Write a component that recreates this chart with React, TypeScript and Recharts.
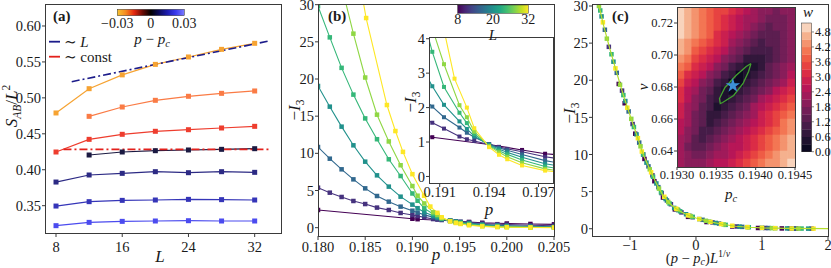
import React from "react"
import { LineChart, Line, XAxis, YAxis, ScatterChart, Scatter } from "recharts"

const FONT = "'Liberation Serif', 'DejaVu Serif', serif"
const INK = "#1a1a1a"
const FRAME = "#3a3a3a"
const TICK = { fill: INK, fontSize: 14.5, fontFamily: FONT }
const TICK_SM = { fill: INK, fontSize: 12.5, fontFamily: FONT }

// ---------- (a) S_AB / L^2 against L, one series per p - p_c
const A_L = [8, 12, 16, 20, 24, 28, 32]
const A_TICKS = [8, 16, 24, 32]
const A_DP = [-0.03, -0.02, -0.01, 0, 0.01, 0.02, 0.03]
const A_COLORS = ["#f6a332", "#fa7b45", "#ee3d2e", "#1b1a42", "#2c2a84", "#3535b8", "#4b4bef"]
const A_S = [
  [0.479, 0.5128, 0.532, 0.5466, 0.5569, 0.5675, 0.5759],
  [null, 0.4743, 0.4873, 0.4966, 0.5022, 0.5063, 0.5096],
  [0.4247, 0.4423, 0.4493, 0.4535, 0.4557, 0.4581, 0.4604],
  [null, 0.4205, 0.4247, 0.4265, 0.4275, 0.4284, 0.4293],
  [0.3829, 0.3927, 0.395, 0.3973, 0.3959, 0.3973, 0.3964],
  [0.3495, 0.3556, 0.3574, 0.3579, 0.3588, 0.3584, 0.3579],
  [0.3222, 0.3268, 0.3282, 0.3287, 0.3291, 0.3287, 0.3287],
]
const A_FIT_L = [9.9, 33.9]
const A_FIT_LIN = [0.5225, 0.5796]
const A_CONST_L = [8.9, 33.9]
const A_CONST = [0.4284, 0.4284]
const A_YTICKS = [0.35, 0.4, 0.45, 0.5, 0.55, 0.6]

// ---------- (b) -I3 against p, one series per L
const B_L = [8, 12, 16, 20, 24, 28, 32]
const B_COLORS = ["#440154", "#46327e", "#31688e", "#21918c", "#35b779", "#8fd744", "#fde725"]
const B_P8 = [0.18, 0.19, 0.19055, 0.194, 0.196, 0.1974, 0.2, 0.2025, 0.205]
const B_I8 = [2.38, 1.2, 1.14, 0.93, 0.77, 0.66, 0.56, 0.5, 0.45]
const B_P = [0.18, 0.18125, 0.1825, 0.18375, 0.185, 0.18625, 0.1875, 0.18875, 0.19, 0.19055, 0.19126, 0.1922,
  0.19265, 0.1931, 0.194, 0.1946, 0.1951, 0.196, 0.1974, 0.199, 0.2, 0.2025, 0.205]
const B_I12 = [5.38, 4.71, 4.13, 3.59, 3.18, 2.7, 2.38, 1.98, 1.7, 1.56, 1.39, 1.16, 1.08, 1.03, 0.93, 0.86, 0.8, 0.72, 0.57, 0.47, 0.42, 0.32, 0.26]
const B_I16 = [10.85, 9.28, 7.85, 6.5, 5.29, 4.26, 3.5, 2.83, 2.28, 2.03, 1.72, 1.42, 1.27, 1.14, 0.94, 0.83, 0.76, 0.64, 0.46, 0.33, 0.27, 0.18, 0.13]
const B_I20 = [19.06, 16.28, 13.59, 11.08, 8.88, 7.04, 5.52, 4.17, 3.1, 2.62, 2.08, 1.6, 1.38, 1.17, 0.92, 0.79, 0.7, 0.56, 0.37, 0.24, 0.19, 0.11, 0.07]
const B_I24 = [29.8, 25.6, 21.5, 17.9, 14.7, 11.9, 9.2, 6.95, 4.6, 3.62, 2.6, 1.85, 1.55, 1.23, 0.9, 0.75, 0.64, 0.48, 0.29, 0.17, 0.12, 0.06, 0.04]
const B_P28 = [0.1825, 0.18375, 0.185, 0.18625, 0.1875, 0.18875, 0.19, 0.19055, 0.19126, 0.1922, 0.19265, 0.1931,
  0.194, 0.1946, 0.1951, 0.196, 0.1974, 0.199, 0.2, 0.2025, 0.205]
const B_I28 = [32.5, 26.1, 20.2, 15.2, 11.6, 8.4, 5.6, 4.3, 3.26, 2.07, 1.72, 1.3, 0.88, 0.7, 0.57, 0.4, 0.22, 0.11, 0.08, 0.04, 0.03]
const B_P32 = [0.184, 0.1851, 0.1873, 0.1882, 0.189, 0.19, 0.19124, 0.1919, 0.19265, 0.1931, 0.194, 0.1946, 0.1951,
  0.196, 0.1974, 0.199, 0.2, 0.2025, 0.205]
const B_I32 = [36, 28.2, 16.5, 13.0, 10.2, 7.2, 4.3, 2.84, 2.0, 1.4, 0.85, 0.63, 0.5, 0.32, 0.17, 0.08, 0.05, 0.02, 0.01]
const B_XTICKS = [0.18, 0.185, 0.19, 0.195, 0.2, 0.205]
const B_YTICKS = [0, 5, 10, 15, 20, 25, 30]
const INSET_XTICKS = [0.191, 0.194, 0.197]
const INSET_YTICKS = [0, 1, 2, 3, 4]

// ---------- (c) collapse: -I3 against (p - pc) L^(1/nu)
const C_X = [-1.6, -1.5, -1.4, -1.3, -1.2, -1.1, -1.0, -0.9, -0.8, -0.7, -0.6, -0.5, -0.4, -0.3, -0.2, -0.1, 0, 0.2, 0.4, 0.6, 0.8, 1.0, 1.4, 2.0]
const C_V = [35.5, 31.2, 27.4, 24.1, 21.0, 18.0, 15.3, 12.7, 10.0, 8.0, 6.1, 4.5, 3.4, 2.7, 2.15, 1.75, 1.45, 0.95, 0.6, 0.33, 0.2, 0.12, 0.04, 0]
const C_PTS: number[][][] = [
  [[-1.17, 19.5], [-1.08, 16.9], [-0.92, 12.8], [-0.78, 9.4], [-0.63, 6.4], [-0.5, 4.2], [-0.32, 2.6], [-0.12, 1.6], [0.16, 0.9], [0.55, 0.3], [0.94, 0.1], [1.3, 0.04], [1.52, 0.02]],
  [[-1.32, 24.5], [-1.12, 18.6], [-0.96, 14.1], [-0.8, 10.0], [-0.66, 7.2], [-0.52, 4.8], [-0.38, 3.3], [-0.22, 2.2], [-0.05, 1.55], [0.25, 0.85], [0.62, 0.3], [1.05, 0.1], [1.42, 0.03], [1.75, 0.01]],
  [[-1.38, 26.8], [-1.2, 21.0], [-1.02, 15.8], [-0.86, 11.6], [-0.72, 8.4], [-0.57, 5.6], [-0.44, 3.8], [-0.27, 2.5], [-0.1, 1.75], [0.1, 1.2], [0.35, 0.7], [0.7, 0.25], [1.1, 0.09], [1.48, 0.03]],
  [[-1.43, 28.6], [-1.25, 22.5], [-1.07, 17.2], [-0.9, 12.7], [-0.75, 8.9], [-0.6, 6.1], [-0.46, 4.0], [-0.33, 2.8], [-0.15, 1.95], [0.05, 1.3], [0.3, 0.78], [0.66, 0.28], [1.0, 0.12], [1.38, 0.04], [1.7, 0.01]],
  [[-1.45, 29.4], [-1.28, 23.5], [-1.1, 18.0], [-0.94, 13.7], [-0.8, 10.0], [-0.65, 7.0], [-0.53, 4.9], [-0.4, 3.4], [-0.24, 2.35], [-0.05, 1.6], [0.2, 0.95], [0.45, 0.52], [0.8, 0.2], [1.2, 0.07], [1.6, 0.02]],
  [[-1.47, 30.0], [-1.35, 25.6], [-1.15, 19.4], [-0.98, 14.8], [-0.84, 11.1], [-0.7, 8.0], [-0.56, 5.4], [-0.42, 3.6], [-0.28, 2.6], [-0.08, 1.7], [0.15, 1.07], [0.42, 0.57], [0.78, 0.21], [1.15, 0.08], [1.55, 0.02]],
  [[-1.41, 27.8], [-1.22, 21.6], [-1.04, 16.3], [-0.88, 12.2], [-0.82, 10.4], [-0.68, 7.6], [-0.48, 4.3], [-0.3, 2.7], [-0.12, 1.8], [0.05, 1.3], [0.22, 0.92], [0.38, 0.63], [0.55, 0.4], [0.78, 0.21], [1.0, 0.12], [1.2, 0.07], [1.45, 0.03], [1.78, 0.01]],
]
const C_XTICKS = [-1, 0, 1, 2]

// ---------- (c) inset: cost w over (pc, nu)
const HM_PC = [0.193047, 0.193141, 0.193234, 0.193328, 0.193422, 0.193516, 0.193609, 0.193703,
  0.193797, 0.193891, 0.193984, 0.194078, 0.194172, 0.194266, 0.194359, 0.194453]
const HM_NU = [0.7275, 0.7225, 0.7175, 0.7125, 0.7075, 0.7025, 0.6975, 0.6925, 0.6875, 0.6825,
  0.6775, 0.6725, 0.6675, 0.6625, 0.6575, 0.6525, 0.6475, 0.6425, 0.6375, 0.6325]
const HM_W = [
  [4.9, 4.6, 4.3, 4.1, 3.8, 3.5, 3.3, 3.0, 2.8, 2.5, 2.2, 2.0, 1.8, 1.7, 1.8, 2.0],
  [4.9, 4.6, 4.4, 4.1, 3.8, 3.5, 3.2, 2.9, 2.6, 2.3, 2.1, 1.8, 1.6, 1.6, 1.7, 1.9],
  [4.9, 4.6, 4.3, 4.0, 3.7, 3.4, 3.1, 2.8, 2.5, 2.2, 1.9, 1.6, 1.4, 1.5, 1.7, 2.0],
  [4.9, 4.6, 4.2, 3.9, 3.6, 3.2, 2.9, 2.6, 2.2, 1.9, 1.6, 1.3, 1.3, 1.4, 1.7, 2.0],
  [4.7, 4.4, 4.0, 3.7, 3.4, 3.0, 2.7, 2.3, 2.0, 1.6, 1.3, 1.1, 1.2, 1.4, 1.7, 2.0],
  [4.6, 4.2, 3.8, 3.5, 3.1, 2.7, 2.4, 2.0, 1.6, 1.3, 1.0, 0.9, 1.1, 1.4, 1.7, 2.0],
  [4.3, 3.9, 3.5, 3.2, 2.8, 2.4, 2.0, 1.6, 1.2, 0.8, 0.6, 0.8, 1.1, 1.4, 1.7, 2.0],
  [4.0, 3.6, 3.2, 2.8, 2.4, 2.0, 1.6, 1.1, 0.7, 0.4, 0.5, 0.8, 1.2, 1.5, 1.8, 2.1],
  [3.7, 3.2, 2.8, 2.4, 1.9, 1.5, 1.1, 0.7, 0.2, 0.3, 0.7, 1.0, 1.3, 1.7, 2.0, 2.4],
  [3.3, 2.9, 2.4, 2.0, 1.5, 1.1, 0.7, 0.2, 0.2, 0.6, 0.9, 1.3, 1.6, 2.0, 2.3, 2.7],
  [3.0, 2.5, 2.1, 1.6, 1.2, 0.8, 0.3, 0.2, 0.6, 0.9, 1.3, 1.7, 2.0, 2.4, 2.8, 3.1],
  [3.0, 2.5, 2.0, 1.6, 1.1, 0.6, 0.3, 0.6, 1.0, 1.4, 1.7, 2.1, 2.4, 2.8, 3.2, 3.5],
  [2.8, 2.3, 1.8, 1.4, 0.9, 0.4, 0.7, 1.0, 1.4, 1.7, 2.1, 2.4, 2.8, 3.1, 3.5, 3.8],
  [2.7, 2.2, 1.7, 1.3, 0.8, 0.6, 1.0, 1.3, 1.7, 2.0, 2.3, 2.7, 3.0, 3.3, 3.7, 4.0],
  [2.6, 2.1, 1.6, 1.2, 0.8, 1.0, 1.3, 1.6, 1.9, 2.2, 2.6, 2.9, 3.2, 3.5, 3.9, 4.2],
  [2.4, 2.0, 1.5, 1.1, 0.9, 1.3, 1.6, 1.9, 2.2, 2.5, 2.8, 3.1, 3.4, 3.7, 4.0, 4.3],
  [2.3, 1.8, 1.4, 1.1, 1.2, 1.5, 1.8, 2.1, 2.4, 2.7, 3.0, 3.3, 3.6, 3.9, 4.2, 4.5],
  [2.2, 1.7, 1.4, 1.3, 1.5, 1.8, 2.1, 2.4, 2.6, 2.9, 3.2, 3.5, 3.8, 4.0, 4.3, 4.6],
  [2.1, 1.8, 1.6, 1.6, 1.8, 2.1, 2.3, 2.6, 2.9, 3.1, 3.4, 3.7, 3.9, 4.2, 4.5, 4.7],
  [2.1, 1.9, 1.8, 1.9, 2.1, 2.4, 2.6, 2.9, 3.2, 3.4, 3.7, 3.9, 4.2, 4.4, 4.7, 5.0],
]
const HM_CONTOUR_PC = [0.19394, 0.19391, 0.19384, 0.19372, 0.19358, 0.19355, 0.19354, 0.19361, 0.19375, 0.19388, 0.19394]
const HM_CONTOUR_NU = [0.6947, 0.6897, 0.6822, 0.6747, 0.6703, 0.6697, 0.6728, 0.6797, 0.6872, 0.6928, 0.6947]
const HM_BEST = { pc: 0.19371, nu: 0.6809 }
const HM_XTICKS = [0.193, 0.1935, 0.194, 0.1945]
const HM_YTICKS = [0.64, 0.66, 0.68, 0.7, 0.72]
const W_TICKS = [0, 0.6, 1.2, 1.8, 2.4, 3.0, 3.6, 4.2, 4.8]
const W_STEP = 0.3
const W_MAX = 5.16

// colour maps
const ROCKET = ["#03051a", "#221331", "#451c47", "#6a1f56", "#921c5b", "#b91657", "#d92847", "#ed503e", "#f47d57", "#f5b08d", "#faebdd"]
const VIRIDIS = ["#440154", "#482475", "#414487", "#355f8d", "#2a788e", "#21918c", "#22a884", "#44bf70", "#7ad151", "#bddf26", "#fde725"]
const DP_STOPS = ["#f7c331", "#f58a1f", "#e4260f", "#6b0a04", "#000000", "#0b0b5c", "#1c1cb0", "#3b3bee", "#7a7aff"]

function hex(c: string) {
  return [1, 3, 5].map(i => parseInt(c.slice(i, i + 2), 16))
}
function rocket(t: number) {
  const x = Math.max(0, Math.min(1, t)) * (ROCKET.length - 1)
  const i = Math.min(Math.floor(x), ROCKET.length - 2)
  const f = x - i
  const a = hex(ROCKET[i]), b = hex(ROCKET[i + 1])
  return `rgb(${a.map((v, k) => Math.round(v + (b[k] - v) * f)).join(",")})`
}
function levelColor(w: number) {
  const band = Math.min(Math.floor(w / W_STEP + 1e-6), 16)
  return rocket(((band + 0.5) * W_STEP) / W_MAX)
}

const square = (size: number, fill: string) => (props: any) => {
  const { cx, cy, index } = props
  if (!Number.isFinite(cx) || !Number.isFinite(cy)) return <g key={`e${index}`} />
  return <rect key={`d${index}`} x={cx - size / 2} y={cy - size / 2} width={size} height={size} fill={fill} />
}

const pairs = (xs: number[], ys: number[]) => xs.map((p, i) => ({ p, v: ys[i] }))
const B_SERIES = [
  pairs(B_P8, B_I8), pairs(B_P, B_I12), pairs(B_P, B_I16), pairs(B_P, B_I20),
  pairs(B_P, B_I24), pairs(B_P28, B_I28), pairs(B_P32, B_I32),
]

function PanelA() {
  const series = A_S.map((row, k) => ({
    dp: A_DP[k],
    color: A_COLORS[k],
    data: A_L.map((L, i) => ({ L, v: row[i] })).filter(d => d.v != null),
  }))
  const fit = A_FIT_L.map((L, i) => ({ L, v: A_FIT_LIN[i] }))
  const flat = A_CONST_L.map((L, i) => ({ L, v: A_CONST[i] }))
  return (
    <LineChart width={290} height={268} margin={{ top: 4, right: 9, bottom: 0, left: 0 }}>
      <XAxis type="number" dataKey="L" domain={[6.67, 35.18]} ticks={A_TICKS} allowDataOverflow interval={0}
        height={35} tickSize={4} tickMargin={5} axisLine={false} tickLine={{ stroke: FRAME }} tick={TICK} />
      <YAxis type="number" domain={[0.312, 0.6306]} ticks={A_YTICKS} allowDataOverflow interval={0}
        width={45} tickSize={3} tickMargin={1} axisLine={false} tickLine={{ stroke: FRAME }} tick={TICK}
        tickFormatter={(v: number) => v.toFixed(2)} />
      {series.map(s => (
        <Line key={s.dp} data={s.data} dataKey="v" stroke={s.color} strokeWidth={1.2} isAnimationActive={false}
          dot={square(5, s.color)} activeDot={false} />
      ))}
      <Line data={fit} dataKey="v" stroke="#1c1c8a" strokeWidth={1.6} strokeDasharray="8 3 2 3" dot={false}
        activeDot={false} isAnimationActive={false} />
      <Line data={flat} dataKey="v" stroke="#e3211c" strokeWidth={1.6} strokeDasharray="8 3 2 3" dot={false}
        activeDot={false} isAnimationActive={false} />
    </LineChart>
  )
}

function PanelB() {
  return (
    <LineChart width={292} height={268} margin={{ top: 4, right: 20, bottom: 0, left: 0 }}>
      <XAxis type="number" dataKey="p" domain={[0.18, 0.205]} ticks={B_XTICKS} allowDataOverflow interval={0}
        height={32} tickSize={4} tickMargin={2} axisLine={false} tickLine={{ stroke: FRAME }} tick={TICK}
        tickFormatter={(v: number) => v.toFixed(3)} />
      <YAxis type="number" domain={[-1.12, 30.09]} ticks={B_YTICKS} allowDataOverflow interval={0}
        width={36} tickSize={3} tickMargin={1} axisLine={false} tickLine={{ stroke: FRAME }} tick={TICK} />
      {B_SERIES.map((d, k) => (
        <Line key={B_L[k]} data={d} dataKey="v" stroke={B_COLORS[k]} strokeWidth={1.1} isAnimationActive={false}
          dot={square(4.5, B_COLORS[k])} activeDot={false} />
      ))}
    </LineChart>
  )
}

function InsetB() {
  return (
    <LineChart width={174} height={213} margin={{ top: 37, right: 20, bottom: 0, left: 0 }}>
      <XAxis type="number" dataKey="p" domain={[0.19035, 0.19788]} ticks={INSET_XTICKS} allowDataOverflow interval={0}
        height={30} tickSize={4} tickMargin={0} axisLine={false} tickLine={{ stroke: FRAME }} tick={TICK}
        tickFormatter={(v: number) => v.toFixed(3)} />
      <YAxis type="number" domain={[-0.19, 4.05]} ticks={INSET_YTICKS} allowDataOverflow interval={0}
        width={30} tickSize={3} tickMargin={1} axisLine={false} tickLine={{ stroke: FRAME }} tick={TICK} />
      {B_SERIES.map((d, k) => (
        <Line key={B_L[k]} data={d} dataKey="v" stroke={B_COLORS[k]} strokeWidth={1.1} isAnimationActive={false}
          dot={square(4, B_COLORS[k])} activeDot={false} />
      ))}
    </LineChart>
  )
}

function PanelC() {
  const curve = C_X.map((x, i) => ({ x, y: C_V[i] }))
  return (
    <ScatterChart width={283} height={268} margin={{ top: 4, right: 10, bottom: 0, left: 0 }}>
      <XAxis type="number" dataKey="x" domain={[-1.575, 2]} ticks={C_XTICKS} allowDataOverflow interval={0}
        height={32} tickSize={4} tickMargin={0} axisLine={false} tickLine={{ stroke: FRAME }} tick={TICK}
        tickFormatter={(v: number) => (v < 0 ? `\u2212${-v}` : `${v}`)} />
      <YAxis type="number" dataKey="y" domain={[-0.98, 30.27]} ticks={B_YTICKS} allowDataOverflow interval={0}
        width={37} tickSize={3} tickMargin={1} axisLine={false} tickLine={{ stroke: FRAME }} tick={TICK} />
      {C_PTS.map((pts, k) => (
        <Scatter key={B_L[k]} data={pts.map(([x, y]) => ({ x, y }))} isAnimationActive={false}
          shape={square(4.5, B_COLORS[k])} />
      ))}
      <Scatter data={curve} isAnimationActive={false} line={{ stroke: "#b4dd2c", strokeWidth: 1.2 }}
        lineType="joint" shape={() => <g />} />
    </ScatterChart>
  )
}

const HM_PLOT_W = 118
const HM_PLOT_H = 160

function Heatmap() {
  const cells = HM_W.flatMap((row, j) => row.map((w, i) => ({ pc: HM_PC[i], nu: HM_NU[j], w })))
  const cw = HM_PLOT_W / HM_PC.length
  const ch = HM_PLOT_H / HM_NU.length
  const contour = HM_CONTOUR_PC.map((pc, i) => ({ pc, nu: HM_CONTOUR_NU[i] }))
  return (
    <ScatterChart width={183} height={187} margin={{ top: 7, right: 20, bottom: 0, left: 0 }}>
      <XAxis type="number" dataKey="pc" domain={[0.193, 0.1945]} ticks={HM_XTICKS} allowDataOverflow interval={0}
        height={20} tickSize={3} tickMargin={0} axisLine={false} tickLine={{ stroke: FRAME }} tick={TICK_SM}
        tickFormatter={(v: number) => v.toFixed(4)} />
      <YAxis type="number" dataKey="nu" domain={[0.63, 0.73]} ticks={HM_YTICKS} allowDataOverflow interval={0}
        width={45} tickSize={3} tickMargin={1} axisLine={false} tickLine={{ stroke: FRAME }} tick={TICK_SM}
        tickFormatter={(v: number) => v.toFixed(2)} />
      <Scatter data={cells} isAnimationActive={false}
        shape={(p: any) => (
          <rect x={p.cx - cw / 2 - 0.3} y={p.cy - ch / 2 - 0.3} width={cw + 0.6} height={ch + 0.6}
            fill={levelColor(p.payload.w)} />
        )} />
      <Scatter data={contour} isAnimationActive={false} line={{ stroke: "#43a02f", strokeWidth: 1.3 }}
        lineType="joint" shape={() => <g />} />
      <Scatter data={[HM_BEST]} isAnimationActive={false} shape="star" fill="#3d8fd6" size={45} />
    </ScatterChart>
  )
}

function Frame({ x, y, w, h }: { x: number; y: number; w: number; h: number }) {
  return <rect x={x + 0.5} y={y + 0.5} width={w - 1} height={h - 1} fill="none" stroke={FRAME} strokeWidth={1} />
}

function Overlay() {
  const bands = Array.from({ length: 17 }, (_, i) => i)
  const cbTop = 23
  const cbBot = 151.7
  const wy = (w: number) => cbBot - (w / W_MAX) * (cbBot - cbTop)
  return (
    <svg width={831} height={268} style={{ position: "absolute", left: 0, top: 0 }} fontFamily={FONT} fill={INK}>
      <defs>
        <linearGradient id="cbA" x1="0" x2="1" y1="0" y2="0">
          {DP_STOPS.map((c, i) => <stop key={i} offset={i / (DP_STOPS.length - 1)} stopColor={c} />)}
        </linearGradient>
        <linearGradient id="cbB" x1="0" x2="1" y1="0" y2="0">
          {VIRIDIS.map((c, i) => <stop key={i} offset={i / (VIRIDIS.length - 1)} stopColor={c} />)}
        </linearGradient>
      </defs>

      <Frame x={45} y={4} w={237} h={230} />
      <Frame x={318} y={4} w={237} h={233} />
      <Frame x={429} y={37} w={125} h={147} />
      <Frame x={592} y={4} w={237} h={233} />
      <Frame x={677} y={7} w={119} h={161} />

      {/* panel (a) */}
      <text x={53} y={21} fontSize={15} fontWeight="bold">(a)</text>
      <text transform="translate(17,106) rotate(-90)" textAnchor="middle" fontSize={17}>
        <tspan fontStyle="italic">S</tspan>
        <tspan fontSize={11.5} dy={4} fontStyle="italic">AB</tspan>
        <tspan dy={-4}>/</tspan>
        <tspan fontStyle="italic">L</tspan>
        <tspan fontSize={11.5} dy={-7}>2</tspan>
      </text>
      <text x={160} y={262} textAnchor="middle" fontSize={17} fontStyle="italic">L</text>
      <rect x={117.3} y={9.3} width={67} height={6.4} fill="url(#cbA)" stroke="#333" strokeWidth={0.5} />
      <text x={117.3} y={28} textAnchor="middle" fontSize={14}>{"\u22120.03"}</text>
      <text x={150.8} y={28} textAnchor="middle" fontSize={14}>0</text>
      <text x={184.3} y={28} textAnchor="middle" fontSize={14}>0.03</text>
      <text x={152} y={44} textAnchor="middle" fontSize={15}>
        <tspan fontStyle="italic">p</tspan> {"\u2212"} <tspan fontStyle="italic">p</tspan>
        <tspan fontSize={10.5} dy={3} fontStyle="italic">c</tspan>
      </text>
      <line x1={49} x2={60} y1={41.7} y2={41.7} stroke="#1c1c8a" strokeWidth={1.8} />
      <text x={64} y={47} fontSize={15}>{"\u223c "}<tspan fontStyle="italic">L</tspan></text>
      <line x1={49} x2={60} y1={56.7} y2={56.7} stroke="#e3211c" strokeWidth={1.8} />
      <text x={64} y={62} fontSize={15}>{"\u223c const"}</text>

      {/* panel (b) */}
      <text x={328} y={21} fontSize={15} fontWeight="bold">(b)</text>
      <text transform="translate(300,110) rotate(-90)" textAnchor="middle" fontSize={17}>
        {"\u2212"}<tspan fontStyle="italic">I</tspan><tspan fontSize={11.5} dy={4}>3</tspan>
      </text>
      <text x={436} y={260} textAnchor="middle" fontSize={17} fontStyle="italic">p</text>
      <rect x={457.7} y={5} width={70.6} height={8.3} fill="url(#cbB)" stroke="#333" strokeWidth={0.5} />
      <text x={457.7} y={24} textAnchor="middle" fontSize={14}>8</text>
      <text x={493} y={24} textAnchor="middle" fontSize={14}>20</text>
      <text x={528.3} y={24} textAnchor="middle" fontSize={14}>32</text>
      <text x={493} y={40} textAnchor="middle" fontSize={15} fontStyle="italic">L</text>
      <text transform="translate(416,102) rotate(-90)" textAnchor="middle" fontSize={17}>
        {"\u2212"}<tspan fontStyle="italic">I</tspan><tspan fontSize={11.5} dy={4}>3</tspan>
      </text>
      <text x={489} y={215} textAnchor="middle" fontSize={17} fontStyle="italic">p</text>

      {/* panel (c) */}
      <text x={612} y={21} fontSize={15} fontWeight="bold">(c)</text>
      <text transform="translate(575,113) rotate(-90)" textAnchor="middle" fontSize={17}>
        {"\u2212"}<tspan fontStyle="italic">I</tspan><tspan fontSize={11.5} dy={4}>3</tspan>
      </text>
      <text x={698} y={262.5} textAnchor="middle" fontSize={14.5}>
        (<tspan fontStyle="italic">p</tspan> {"\u2212"} <tspan fontStyle="italic">p</tspan>
        <tspan fontSize={10} dy={2.5} fontStyle="italic">c</tspan>
        <tspan dy={-2.5}>)</tspan><tspan fontStyle="italic">L</tspan>
        <tspan fontSize={10} dy={-6}>1/</tspan><tspan fontSize={10} fontStyle="italic">{"\u03bd"}</tspan>
      </text>
      <text transform="translate(648,87) rotate(-90)" textAnchor="middle" fontSize={15} fontStyle="italic">{"\u03bd"}</text>
      <text x={731} y={199} textAnchor="middle" fontSize={15}>
        <tspan fontStyle="italic">p</tspan><tspan fontSize={10.5} dy={3} fontStyle="italic">c</tspan>
      </text>
      {bands.map(i => {
        const lo = i * W_STEP
        const hi = i === 16 ? W_MAX : (i + 1) * W_STEP
        return <rect key={i} x={801.7} y={wy(hi)} width={10} height={wy(lo) - wy(hi) + 0.3} fill={levelColor(lo + 0.01)} />
      })}
      <rect x={801.7} y={cbTop} width={10} height={cbBot - cbTop} fill="none" stroke="#333" strokeWidth={0.5} />
      {W_TICKS.map(t => (
        <g key={t}>
          <line x1={811.7} x2={814} y1={wy(t)} y2={wy(t)} stroke="#333" strokeWidth={0.6} />
          <text x={815} y={wy(t) + 4.5} fontSize={12.5}>{t.toFixed(1)}</text>
        </g>
      ))}
      <text x={803} y={17} fontSize={15} fontStyle="italic">w</text>
    </svg>
  )
}

export default function App() {
  return (
    <div style={{ position: "absolute", left: 0, top: 0, width: 831, height: 268, background: "#fff", overflow: "hidden", fontFamily: FONT }}>
      <div style={{ position: "absolute", left: 0, top: 0 }}><PanelA /></div>
      <div style={{ position: "absolute", left: 282, top: 0 }}><PanelB /></div>
      <div style={{ position: "absolute", left: 429, top: 37, width: 124, height: 146, background: "#fff" }} />
      <div style={{ position: "absolute", left: 399, top: 0 }}><InsetB /></div>
      <div style={{ position: "absolute", left: 555, top: 0 }}><PanelC /></div>
      <div style={{ position: "absolute", left: 632, top: 0 }}><Heatmap /></div>
      <Overlay />
    </div>
  )
}
